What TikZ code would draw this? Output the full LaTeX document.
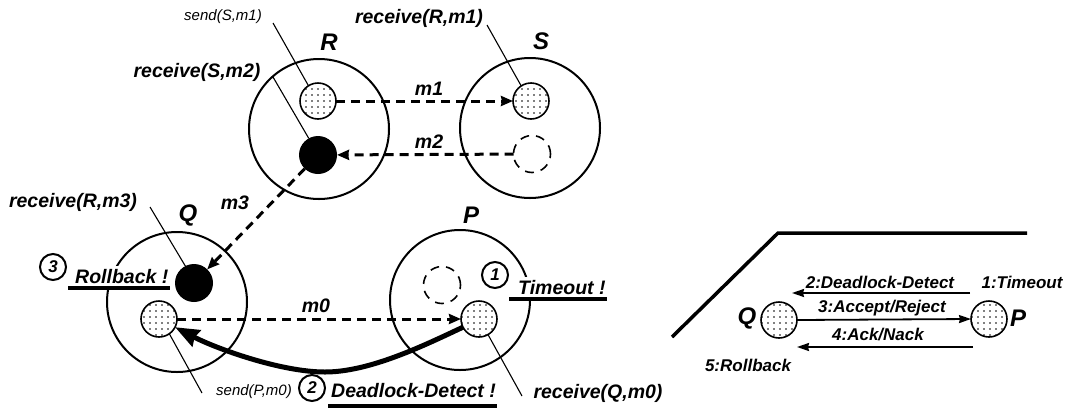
\documentclass[tikz,border=0pt]{standalone}
\usepackage{fontspec}
\setmainfont{Liberation Sans}
\usetikzlibrary{arrows.meta,patterns.meta,calc}
\begin{document}
\begin{tikzpicture}[x=1pt,y=-1pt,
  big/.style={circle,draw,line width=2pt,minimum size=140pt,inner sep=0pt,outer sep=0pt},
  dotc/.style={circle,draw,line width=1.6pt,minimum size=36pt,inner sep=0pt,outer sep=0pt,pattern={Dots[distance=6pt,radius=0.8pt]}},
  blk/.style={circle,fill=black,minimum size=38pt,inner sep=0pt,outer sep=0pt},
  dsh/.style={circle,draw,line width=1.6pt,dash pattern=on 9pt off 7pt,minimum size=37pt,inner sep=0pt,outer sep=0pt},
  msg/.style={line width=3pt,dash pattern=on 9pt off 6pt,-{Stealth[length=12pt,width=10pt,inset=1pt]}},
  rarr/.style={line width=1.8pt,-{Stealth[length=12pt,width=8pt,inset=1pt]}},
  lead/.style={line width=1.1pt},
  uline/.style={line width=3.5pt},
  lbl/.style={font=\bfseries\itshape\fontsize{19.5}{22}\selectfont,inner sep=1pt},
  sml/.style={font=\itshape\fontsize{15}{18}\selectfont,inner sep=1pt},
  pname/.style={font=\bfseries\itshape\fontsize{24}{28}\selectfont,inner sep=1pt},
  rlbl/.style={font=\bfseries\itshape\fontsize{17}{20}\selectfont,inner sep=1pt},
  num/.style={circle,draw,line width=2pt,minimum size=26pt,inner sep=0pt,font=\bfseries\itshape\fontsize{17}{20}\selectfont}
]
\useasboundingbox (0,0) rectangle (1067,413);

% big process circles
\node[big] (bigR) at (319,129) {};
\node[big] (bigS) at (530,128) {};
\node[big] (bigQ) at (177,302) {};
\node[big] (bigP) at (460,300) {};

% process names
\node[pname] (nR) at (329,42) {R};
\node[pname] (nS) at (541,41) {S};
\node[pname] (nQ) at (188,215) {Q};
\node[pname] (nP) at (471,215) {P};

% small circles
\node[dotc] (Rs) at (318,101) {};
\node[blk]  (Rb) at (318,155) {};
\node[dotc] (Sr) at (531,101) {};
\node[dsh]  (Sd) at (532,154) {};
\node[blk]  (Qb) at (194,283) {};
\node[dotc] (Qs) at (159,319) {};
\node[dsh]  (Pd) at (442,285) {};
\node[dotc] (Pr) at (479,319) {};

% messages
\draw[msg] (Rs) -- (Sr);
\draw[msg] (Sd) -- (Rb);
\draw[msg] (Rb) -- (Qb);
\draw[msg] (Qs) -- (Pr);
\node[lbl] (lm1) at (429,89) {m1};
\node[lbl] (lm2) at (429,142) {m2};
\node[lbl] (lm3) at (235,203) {m3};
\node[lbl] (lm0) at (316,306) {m0};

% event labels with leaders
\node[sml] (tsend1) at (223,17) {send(S,m1)};
\coordinate (c1) at (273,23);
\draw[lead] (c1) -- (Rs.122);
\node[lbl] (trecv2) at (197,72) {receive(S,m2)};
\coordinate (c2) at (273,77);
\draw[lead] (c2) -- (Rb.119);
\node[lbl] (trecv1) at (419,18) {receive(R,m1)};
\coordinate (c3) at (487,25);
\draw[lead] (c3) -- (Sr.123);
\node[lbl] (trecv3) at (73,202) {receive(R,m3)};
\coordinate (c4) at (150,207);
\draw[lead] (c4) -- (Qb.117);
\node[sml] (tsend0) at (254,392) {send(P,m0)};
\coordinate (c5) at (202,393);
\draw[lead] (c5) -- (Qs.-55);
\node[lbl] (trecv0) at (598,393) {receive(Q,m0)};
\coordinate (c6) at (522,396);
\draw[lead] (c6) -- (Pr.-60);

% deadlock detect curved arrow
\coordinate (cm) at (325,372);
\draw[line width=5pt,-{Stealth[length=24pt,width=18pt,inset=2pt]}]
  (Pr.207) .. controls (425,345) and (370,372) .. (cm)
  .. controls (280,372) and (215,348) .. (Qs.-27);

% numbered events
\node[num] (n3) at (53,267) {3};
\node[lbl,fill=white,anchor=base west,inner sep=3pt] (trb) at (72,283) {Rollback !};
\draw[uline] ($(trb.base west)+(-4,5)$) -- ($(trb.base east)+(-2,5)$);
\node[num] (n1) at (495,275) {1};
\node[lbl,fill=white,anchor=base west,inner sep=3pt] (tto) at (515,294) {Timeout !};
\draw[uline] ($(tto.base west)+(-6,5)$) -- ($(tto.base east)+(-2,5)$);
\node[num] (n2) at (312,388) {2};
\node[lbl,anchor=base west,inner sep=3pt] (tdd) at (328,397) {Deadlock-Detect !};
\draw[uline] ($(tdd.base west)+(0,9)$) -- ($(tdd.base east)+(-2,9)$);

% right-hand protocol sketch
\coordinate (d1) at (672,337);
\coordinate (d2) at (778,233);
\coordinate (d3) at (1027,233);
\draw[line width=3.5pt] (d1) -- (d2) -- (d3);
\node[dotc] (Q2) at (779,320) {};
\node[dotc] (P2) at (989,319) {};
\node[pname] (nQ2) at (747,318) {Q};
\node[pname] (nP2) at (1018,318) {P};
\coordinate (a2s) at (970,293);
\coordinate (a2e) at (792,293);
\draw[rarr] (a2s) -- (a2e);
\draw[rarr] (Q2.east) -- (P2.west);
\coordinate (a4s) at (973,347);
\coordinate (a4e) at (797,347);
\draw[rarr] (a4s) -- (a4e);
\node[rlbl] (r2) at (880,282) {2:Deadlock-Detect};
\node[rlbl] (r1) at (1022,282) {1:Timeout};
\node[rlbl] (r3) at (882,308) {3:Accept/Reject};
\node[rlbl] (r4) at (878,335) {4:Ack/Nack};
\node[rlbl] (r5) at (748,365) {5:Rollback};
\end{tikzpicture}
\end{document}
